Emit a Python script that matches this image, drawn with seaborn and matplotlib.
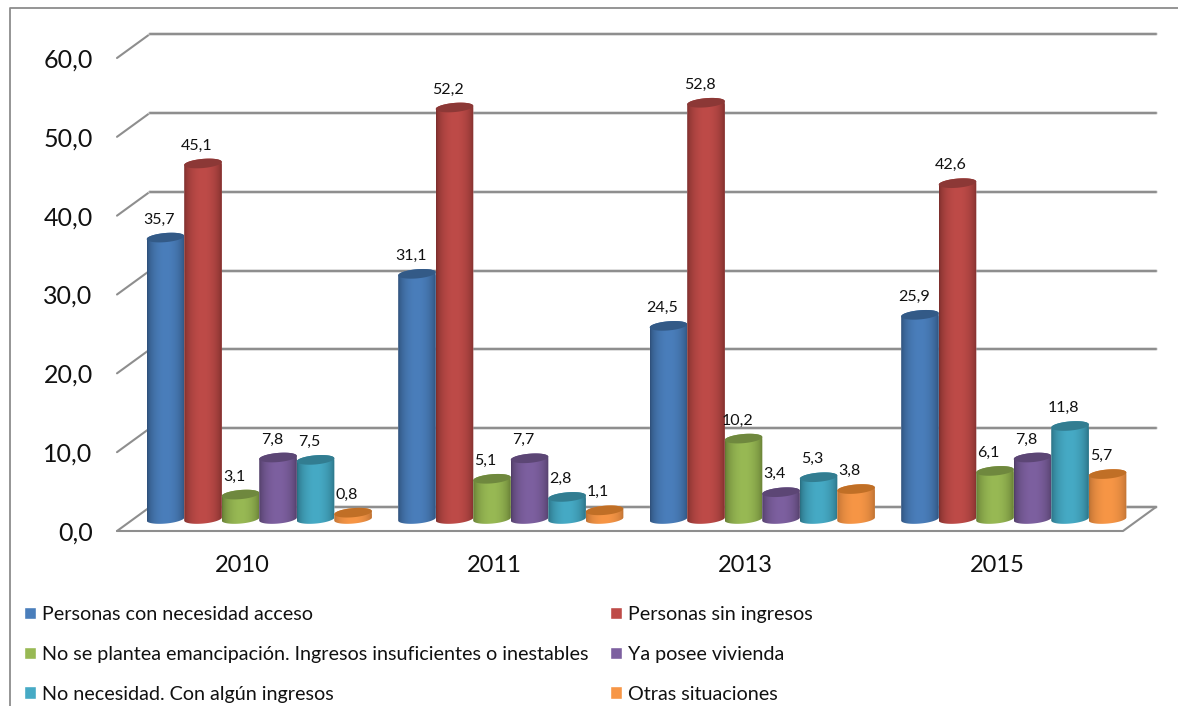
import numpy as np
import pandas as pd
import matplotlib
matplotlib.use('Agg')
import matplotlib.pyplot as plt
import seaborn as sns
from matplotlib.colors import to_rgb
from matplotlib.lines import Line2D
from matplotlib.patches import Polygon

## data
years = ['2010', '2011', '2013', '2015']
series = ['Personas con necesidad acceso', 'Personas sin ingresos',
          'No se plantea emancipación. Ingresos insuficientes o inestables',
          'Ya posee vivienda', 'No necesidad. Con algún ingresos', 'Otras situaciones']
necesidad = [35.7, 31.1, 24.5, 25.9]
sin_ingresos = [45.1, 52.2, 52.8, 42.6]
no_plantea = [3.1, 5.1, 10.2, 6.1]
ya_posee = [7.8, 7.7, 3.4, 7.8]
no_necesidad = [7.5, 2.8, 5.3, 11.8]
otras = [0.8, 1.1, 3.8, 5.7]
yticks = [0, 10, 20, 30, 40, 50, 60]
ytick_labels = ['0,0', '10,0', '20,0', '30,0', '40,0', '50,0', '60,0']

## colours: legend / light middle / dark edge / cap
colors = ['#4a7ebb', '#be4b48', '#98b954', '#7d60a0', '#46aac5', '#f79646']
edges = ['#2c4d75', '#772c2a', '#5f7530', '#4d3b62', '#276a7c', '#b66d31']
caps = ['#335a87', '#8c3836', '#6f883e', '#5c4675', '#327d91', '#c06f26']

rows = []
for name, vals in zip(series, [necesidad, sin_ingresos, no_plantea, ya_posee, no_necesidad, otras]):
    for y, v in zip(years, vals):
        rows.append({'year': y, 'serie': name, 'valor': v})
df = pd.DataFrame(rows)

sns.set_theme(style='white')
plt.rcParams['font.family'] = ['Lato', 'DejaVu Sans']

W, H = 1178, 706
fig = plt.figure(figsize=(W / 100, H / 100), dpi=100)

## front plane of the 3d box, in pixels
left, right, bottom, top = 117, 1123, 531, 58
depth_x, depth_y = 33, 24
rect = [left / W, 1 - bottom / H, (right - left) / W, (bottom - top) / H]
ax = fig.add_axes(rect)
ax.set_xlim(-0.5, 3.5)
ax.set_ylim(0, 60)

dx = depth_x / (right - left) * 4
dy = depth_y / (bottom - top) * 60
grid = '#8e8e8e'
for v in yticks:
    ax.plot([-0.5, -0.5 + dx], [v, v + dy], color=grid, lw=1.5, clip_on=False, zorder=1)
    ax.plot([-0.5 + dx, 3.5 + dx], [v + dy, v + dy], color='#dcdcdc', lw=2.6, clip_on=False, zorder=1)
    ax.plot([-0.5 + dx, 3.5 + dx], [v + dy, v + dy], color=grid, lw=1.5, clip_on=False, zorder=1)
ax.plot([-0.5, 3.5, 3.5 + dx], [0, 0, dy], color=grid, lw=1.5, clip_on=False, zorder=1)

ax.set_xticks(range(4))
ax.set_xticklabels(years, fontsize=17, color='#111111')
ax.set_yticks(yticks)
ax.set_yticklabels(ytick_labels, fontsize=18, color='#111111')
ax.tick_params(axis='x', length=0, pad=17)
ax.tick_params(axis='y', length=0, pad=17.5)
ax.set_xlabel('')
ax.set_ylabel('')
sns.despine(ax=ax, left=True, bottom=True)

## bars sit in the middle of the box depth; the axes reach a bit below 0
## because images get cut at the axes box and the cylinders have a round foot
below = 2
px_unit = (bottom - top) / 60
rect2 = [(left + depth_x / 2) / W, 1 - (bottom - depth_y / 2 + below * px_unit) / H,
         rect[2], rect[3] + below * px_unit / H]
ax2 = fig.add_axes(rect2)
ax2.patch.set_visible(False)
sns.barplot(data=df, x='year', y='valor', hue='serie', hue_order=series, order=years,
            palette=colors, saturation=1, width=0.895, gap=0, errorbar=None, ax=ax2)
handles, labels = ax2.get_legend_handles_labels()
ax2.get_legend().remove()
ax2.axis('off')

b = 0.58   # half cap height, in value units
k = 0.2    # tilt of the caps
u = np.linspace(0, 1, 80)
shade = np.sin(np.pi * u) ** 0.55
z = 5
for i, bars in enumerate(ax2.containers):
    c1, c2 = np.array(to_rgb(colors[i])), np.array(to_rgb(edges[i]))
    img = (c2[None, :] + (c1 - c2)[None, :] * shade[:, None])[None, :, :]
    for bar in bars:
        x, w, h = bar.get_x(), bar.get_width(), bar.get_height()
        cx = x + w / 2
        t = np.linspace(0, 2 * np.pi, 80)
        ex = cx + w / 2 * np.cos(t)
        top_y = h + b * np.sin(t) + k * np.cos(t)
        low = np.linspace(np.pi, 2 * np.pi, 40)
        up = np.linspace(0, np.pi, 40)
        body = np.vstack([
            np.c_[cx + w / 2 * np.cos(low), b * np.sin(low) + k * np.cos(low)],
            np.c_[cx + w / 2 * np.cos(up), h + b * np.sin(up) + k * np.cos(up)],
        ])
        clip = Polygon(body, closed=True, transform=ax2.transData)
        bar.set_clip_path(clip)
        bar.set_zorder(z)
        im = ax2.imshow(img, extent=(x, x + w, -below, h + 2), aspect='auto', zorder=z + 0.1,
                        interpolation='bilinear')
        im.set_clip_path(clip)
        ax2.add_patch(Polygon(np.c_[ex, top_y], closed=True, facecolor=caps[i],
                              edgecolor='none', zorder=z + 0.2, clip_on=False))
        ax2.annotate(f'{h:.1f}'.replace('.', ','), (cx, h), xytext=(-4.5, 13), textcoords='offset points',
                     ha='center', va='center', fontsize=11.5, color='#111111', zorder=50,
                     annotation_clip=False)
        z += 1
ax2.set_xlim(-0.5, 3.5)
ax2.set_ylim(-below, 60)

## legend, filled column by column
order = [0, 2, 4, 1, 3, 5]
fig.legend([handles[i] for i in order], [labels[i] for i in order], ncol=2, frameon=False,
           loc='upper left', bbox_to_anchor=(24 / W, 1 - 606 / H), borderpad=0, borderaxespad=0,
           fontsize=14.2, handlelength=0.61, handleheight=0.61, handletextpad=0.3,
           labelspacing=1.16, columnspacing=1.1, labelcolor='#111111')

## outer frame of the chart, cut at top and left
fig.add_artist(Line2D([9.5 / W, 9.5 / W, 1], [0, 1 - 7.5 / H, 1 - 7.5 / H], color='#8c8c8c', lw=1.3))

plt.savefig('out.png', dpi=100)
